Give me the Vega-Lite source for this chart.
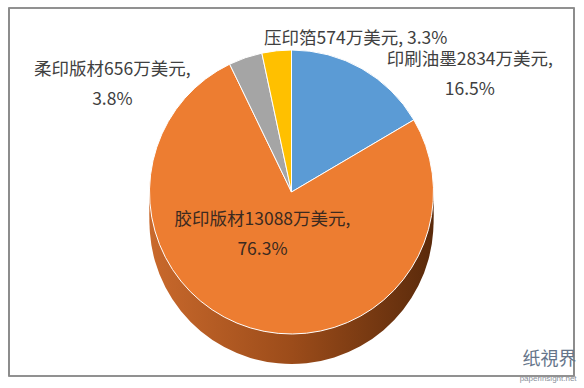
{
  "$schema": "https://vega.github.io/schema/vega-lite/v6.json",
  "width": 565,
  "height": 368,
  "autosize": {"type": "none"},
  "padding": {"left": 9, "top": 8, "right": 10, "bottom": 12},
  "background": "white",
  "config": {
    "view": {"stroke": null},
    "text": {"font": "Noto Sans CJK SC"},
    "title": {"font": "Noto Sans CJK SC", "subtitleFont": "Liberation Sans"}
  },
  "title": {
    "text": "纸視界",
    "subtitle": "paperinsight.net",
    "orient": "bottom",
    "anchor": "end",
    "offset": 0,
    "dy": -51,
    "dx": 2,
    "fontSize": 18,
    "fontWeight": "normal",
    "color": "#66758a",
    "subtitleFontSize": 8,
    "subtitleColor": "#8a8f99",
    "subtitlePadding": 6
  },
  "data": {
    "values": [
      {"item": "印刷油墨", "value": 2834, "seq": 1, "label": "印刷油墨2834万美元,\n16.5%"},
      {"item": "胶印版材", "value": 13088, "seq": 2, "label": "胶印版材13088万美元,\n76.3%"},
      {"item": "柔印版材", "value": 656, "seq": 3, "label": "柔印版材656万美元,\n3.8%"},
      {"item": "压印箔", "value": 574, "seq": 4, "label": "压印箔574万美元, 3.3%"}
    ]
  },
  "layer": [
    {
      "mark": {"type": "rect", "fill": null, "fillOpacity": 0, "stroke": "#8a8a8a", "strokeWidth": 1.2},
      "encoding": {}
    },
    {
      "encoding": {
        "theta": {"field": "value", "type": "quantitative", "stack": true},
        "order": {"field": "seq", "type": "quantitative"},
        "detail": {"field": "item", "type": "nominal"}
      },
      "layer": [
        {
          "mark": {"type": "arc", "radius": 142, "yOffset": 30,
            "fill": {"gradient": "linear", "x1": 0, "y1": 0, "x2": 1, "y2": 0,
              "stops": [{"offset": 0, "color": "#c9692c"}, {"offset": 0.5, "color": "#9c4c1a"}, {"offset": 1, "color": "#5a2a0b"}]}}
        },
        {
          "mark": {"type": "arc", "radius": 142, "yOffset": 22.5,
            "fill": {"gradient": "linear", "x1": 0, "y1": 0, "x2": 1, "y2": 0,
              "stops": [{"offset": 0, "color": "#c9692c"}, {"offset": 0.5, "color": "#9c4c1a"}, {"offset": 1, "color": "#5a2a0b"}]}}
        },
        {
          "mark": {"type": "arc", "radius": 142, "yOffset": 15,
            "fill": {"gradient": "linear", "x1": 0, "y1": 0, "x2": 1, "y2": 0,
              "stops": [{"offset": 0, "color": "#c9692c"}, {"offset": 0.5, "color": "#9c4c1a"}, {"offset": 1, "color": "#5a2a0b"}]}}
        },
        {
          "mark": {"type": "arc", "radius": 142, "yOffset": 7.5,
            "fill": {"gradient": "linear", "x1": 0, "y1": 0, "x2": 1, "y2": 0,
              "stops": [{"offset": 0, "color": "#c9692c"}, {"offset": 0.5, "color": "#9c4c1a"}, {"offset": 1, "color": "#5a2a0b"}]}}
        },
        {
          "mark": {"type": "arc", "radius": 142, "stroke": "#ffffff", "strokeWidth": 1},
          "encoding": {
            "color": {
              "field": "item",
              "type": "nominal",
              "scale": {
                "domain": ["印刷油墨", "胶印版材", "柔印版材", "压印箔"],
                "range": ["#5b9bd5", "#ed7d31", "#a5a5a5", "#ffc000"]
              },
              "legend": null
            }
          }
        },
        {
          "mark": {"type": "text", "radius": 170, "dx": 94, "dy": 16, "fontSize": 17.5, "lineBreak": "\n", "lineHeight": 30, "fill": "#404040"},
          "encoding": {"text": {"condition": {"test": "datum.item === '印刷油墨'", "field": "label"}, "value": ""}}
        },
        {
          "mark": {"type": "text", "radius": 45, "dx": -16, "dy": -15, "fontSize": 17.5, "lineBreak": "\n", "lineHeight": 30, "fill": "#3a2a20"},
          "encoding": {"text": {"condition": {"test": "datum.item === '胶印版材'", "field": "label"}, "value": ""}}
        },
        {
          "mark": {"type": "text", "radius": 170, "dx": -124, "dy": 39, "fontSize": 17.5, "lineBreak": "\n", "lineHeight": 30, "fill": "#404040"},
          "encoding": {"text": {"condition": {"test": "datum.item === '柔印版材'", "field": "label"}, "value": ""}}
        },
        {
          "mark": {"type": "text", "radius": 160, "dx": 81, "dy": 6, "fontSize": 17.5, "lineBreak": "\n", "lineHeight": 30, "fill": "#404040"},
          "encoding": {"text": {"condition": {"test": "datum.item === '压印箔'", "field": "label"}, "value": ""}}
        }
      ]
    }
  ]
}
